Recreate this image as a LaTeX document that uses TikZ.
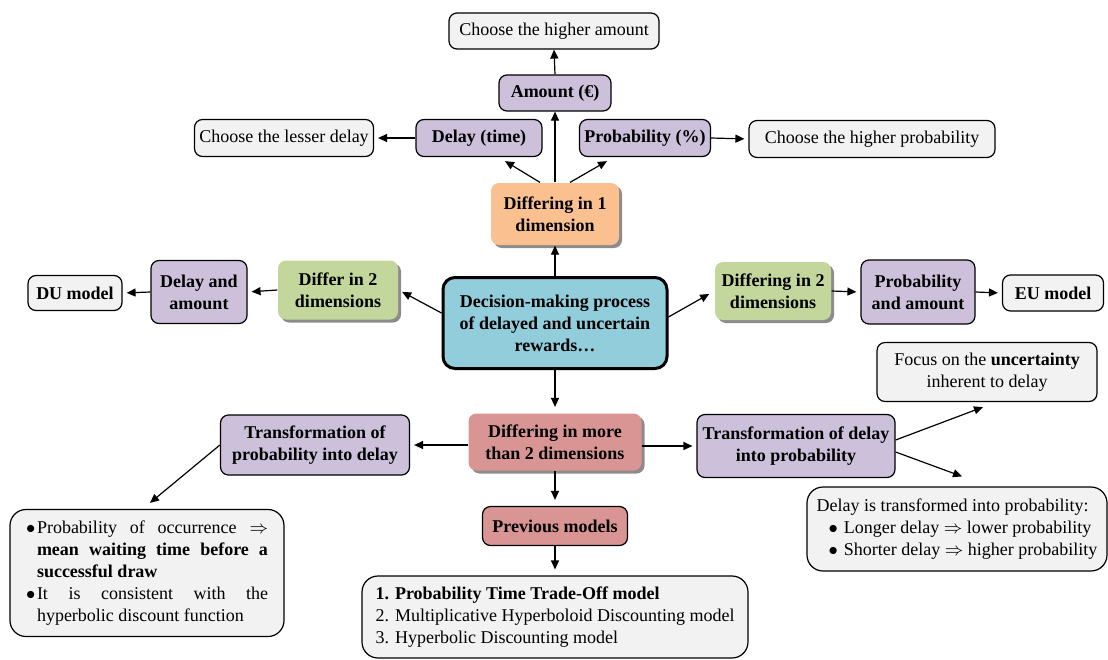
\documentclass[tikz,border=0pt]{standalone}
\usepackage{fontspec}
\setmainfont{Liberation Serif}
\usetikzlibrary{arrows.meta,shadows,calc}
\definecolor{cgray}{HTML}{F2F2F2}
\definecolor{cpurple}{HTML}{CCC0DA}
\definecolor{corange}{HTML}{FAC090}
\definecolor{cgreen}{HTML}{C3D69B}
\definecolor{cblue}{HTML}{92CDDC}
\definecolor{crose}{HTML}{D99594}
\tikzset{
  base/.style={draw, rounded corners=4pt, line width=0.6pt, align=center, inner sep=2pt,
    font=\fontsize{9}{11}\selectfont},
  graybox/.style={base, fill=cgray},
  purplebox/.style={base, fill=cpurple, font=\fontsize{9}{11}\selectfont\bfseries},
  shad/.style={drop shadow={shadow xshift=1.5pt, shadow yshift=-1.5pt, fill=black!45, opacity=1}},
  colbox/.style={base, draw=none, shad, font=\fontsize{9}{11}\selectfont\bfseries},
  arr/.style={-{Triangle[length=4.5pt,width=4pt]}, line width=0.6pt},
}
\begin{document}
\begin{tikzpicture}[x=0.5pt,y=-0.5pt]
\useasboundingbox (0,0) rectangle (1108,659);
% top
\node[graybox, minimum width=105pt, minimum height=18pt] (cha) at (554,31) {Choose the higher amount};
\node[purplebox, minimum width=56pt, minimum height=18pt] (amt) at (555,93) {Amount (€)};
\node[purplebox, minimum width=63pt, minimum height=18.5pt] (dly) at (479,138) {Delay (time)};
\node[purplebox, minimum width=65.5pt, minimum height=18.5pt] (prb) at (645,138) {Probability (\%)};
\node[graybox, minimum width=89.5pt, minimum height=18.5pt] (cld) at (284,138) {Choose the lesser delay};
\node[graybox, minimum width=123pt, minimum height=18.5pt] (chp) at (872,139) {Choose the higher probability};
\node[colbox, fill=corange, minimum width=64pt, minimum height=31pt] (d1) at (555,214) {Differing in 1\\dimension};
% center
\node[base, fill=cblue, line width=1.5pt, rounded corners=6pt, font=\fontsize{9}{11}\selectfont\bfseries,
  minimum width=112pt, minimum height=45.5pt] (ctr) at (555,323) {Decision-making process\\of delayed and uncertain\\rewards\ldots};
% left
\node[colbox, fill=cgreen, minimum width=60pt, minimum height=29.5pt] (g2l) at (338,290) {Differ in 2\\dimensions};
\node[purplebox, minimum width=48pt, minimum height=31.5pt] (dam) at (199,292) {Delay and\\amount};
\node[graybox, font=\fontsize{9}{11}\selectfont\bfseries, minimum width=47pt, minimum height=17.5pt] (du) at (75,293) {DU model};
% right
\node[colbox, fill=cgreen, minimum width=58pt, minimum height=29pt] (g2r) at (773,291) {Differing in 2\\dimensions};
\node[purplebox, minimum width=57pt, minimum height=32pt] (pam) at (918,292) {Probability\\and amount};
\node[graybox, font=\fontsize{9}{11}\selectfont\bfseries, minimum width=50.5pt, minimum height=18pt] (eu) at (1053,293) {EU model};
\node[graybox, minimum width=110pt, minimum height=29.5pt] (foc) at (987,372) {Focus on the \textbf{uncertainty}\\inherent to delay};
% bottom
\node[colbox, fill=crose, minimum width=86.5pt, minimum height=28.5pt] (d3) at (555,442) {Differing in more\\than 2 dimensions};
\node[purplebox, minimum width=94.5pt, minimum height=30pt] (tpl) at (315,445) {Transformation of\\probability into delay};
\node[purplebox, minimum width=99pt, minimum height=31.5pt] (tpr) at (796,446) {Transformation of delay\\into probability};
\node[base, fill=crose, font=\fontsize{9}{11}\selectfont\bfseries, minimum width=72.5pt, minimum height=19.5pt] (prev) at (555,526) {Previous models};
\node[graybox, rounded corners=8pt, minimum width=137pt, minimum height=63.5pt, text width=121pt, align=justify] (poc) at (147,573)
  {\hyphenpenalty=10000\hangindent=5.5pt\hangafter=1\noindent\makebox[5.5pt][l]{$\bullet$}Probability of occurrence $\Rightarrow$\linebreak
   \textbf{mean waiting time before a\linebreak successful draw}\par
   \hangindent=5.5pt\hangafter=1\noindent\makebox[5.5pt][l]{$\bullet$}It is consistent with the\linebreak hyperbolic discount function\par};
\node[graybox, rounded corners=8pt, minimum width=193pt, minimum height=41pt, align=left] (lst) at (555,617)
  {\textbf{1. Probability Time Trade-Off model}\\2. Multiplicative Hyperboloid Discounting model\\3. Hyperbolic Discounting model};
\node[graybox, rounded corners=8pt, minimum width=150pt, minimum height=42pt, align=left] (dtp) at (957,529)
  {Delay is transformed into probability:\\
   \hspace*{6pt}$\bullet$\hspace{3pt}Longer delay $\Rightarrow$ lower probability\\
   \hspace*{6pt}$\bullet$\hspace{3pt}Shorter delay $\Rightarrow$ higher probability};
% arrows
\draw[arr] (ctr.north) -- (d1.south);
\draw[arr] (d1.north) -- (amt.south);
\draw[arr] ($(d1.north)+(-15,0)$) -- ($(dly.south)+(26,4)$);
\draw[arr] ($(d1.north)+(15,0)$) -- ($(prb.south)+(-38,4)$);
\draw[arr] (amt.north) -- (cha.south);
\draw[arr, shorten >=2pt] (dly.west) -- (cld.east);
\draw[arr, shorten >=2pt] (prb.east) -- (chp.west);
\draw[arr, shorten >=2pt] ($(ctr.west)+(0,-10)$) -- (g2l.east);
\draw[arr, shorten >=2pt] (g2l.west) -- (dam.east);
\draw[arr, shorten >=2pt] (dam.west) -- (du.east);
\draw[arr, shorten >=3pt] ($(ctr.east)+(0,-6)$) -- (g2r.west);
\draw[arr, shorten >=2pt] (g2r.east) -- (pam.west);
\draw[arr, shorten >=2pt] (pam.east) -- (eu.west);
\draw[arr, shorten >=3pt] (ctr.south) -- (d3.north);
\draw[arr, shorten >=2pt] (d3.west |- tpl.east) -- (tpl.east);
\draw[arr, shorten >=2pt] (d3.east |- tpr.west) -- (tpr.west);
\draw[arr, shorten >=3pt] (d3.south) -- (prev.north);
\draw[arr, shorten >=3pt] (prev.south) -- (lst.north);
\draw[arr] (tpl.west) -- ($(poc.north)+(3,-6)$);
\draw[arr] ($(tpr.east)+(0,-6)$) -- ($(foc.south)+(-4,5)$);
\draw[arr] ($(tpr.east)+(0,6)$) -- ($(dtp.north)+(5,-10)$);
\end{tikzpicture}
\end{document}
